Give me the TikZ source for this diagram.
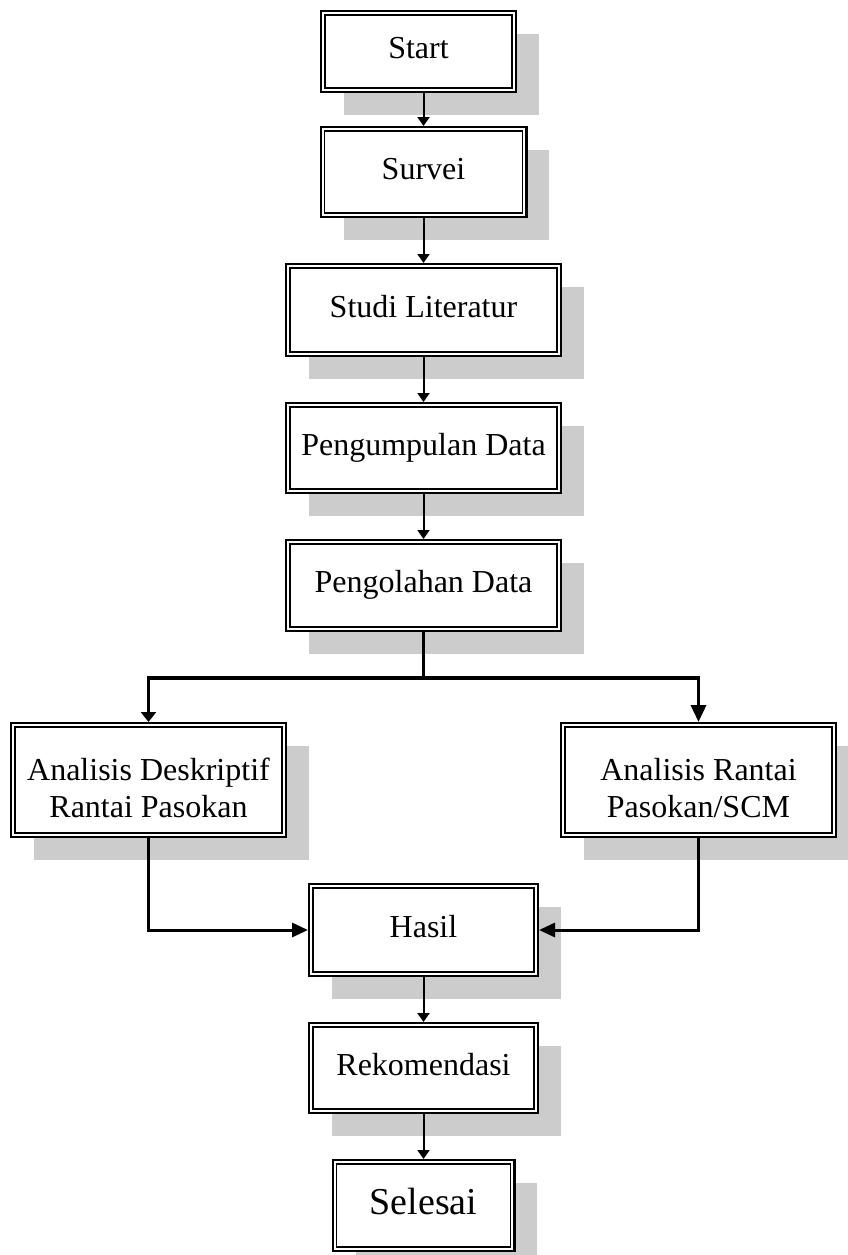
\documentclass[tikz,border=0pt]{standalone}
\usepackage{fontspec}
\setmainfont{Liberation Serif}
\usetikzlibrary{positioning}
\usetikzlibrary{arrows.meta, shadows}

\begin{document}
\begin{tikzpicture}[x=1pt, y=1pt,
  kotak/.style = {draw, fill=white, line width=2.4pt,
    inner sep=0pt, outer sep=1.2pt, minimum width=274.6pt, minimum height=90.6pt,
    font=\fontsize{32pt}{37pt}\selectfont, text height=22.4pt, text depth=8pt,
    path picture={\draw[line width=1.3pt]
      ([shift={(3.85pt,-3.85pt)}]path picture bounding box.north west) rectangle
      ([shift={(-3.85pt,3.85pt)}]path picture bounding box.south east);},
    drop shadow={shadow xshift=23pt, shadow yshift=-23pt, fill=black!20, opacity=1}},
  dua/.style = {align=center, minimum height=113.6pt, text height=75pt, text depth=0pt},
  panah/.style = {-{Triangle[width=12pt,length=9pt]}, line width=2pt},
  tebal/.style = {line width=3.5pt},
  gabung/.style = {-{Triangle[width=14pt,length=16pt]}, line width=3pt}]
\useasboundingbox (0,0) rectangle (848,-1255);
\node[kotak, minimum width=194.6pt, minimum height=80.6pt] (start) at (418.5,-51.5) {Start};
\node[kotak, minimum width=205.6pt, minimum height=89.6pt] (survei) [below=33pt of start, xshift=5pt] {Survei};
\node[kotak, minimum height=91.6pt] (studi) [below=45pt of survei] {Studi Literatur};
\node[kotak, minimum height=89.6pt] (kumpul) [below=45pt of studi] {Pengumpulan Data};
\node[kotak] (olah) [below=45pt of kumpul] {Pengolahan Data};
\node[kotak, dua] (deskriptif) [below=90pt of olah, xshift=-275pt] {Analisis Deskriptif\\Rantai Pasokan};
\node[kotak, dua] (scm) [below=90pt of olah, xshift=275pt] {Analisis Rantai\\Pasokan/SCM};
\node[kotak, minimum width=228.6pt, minimum height=91.6pt] (hasil) at (423.5,-930) {Hasil};
\node[kotak, minimum width=228.6pt, minimum height=89.6pt] (rekom) [below=45pt of hasil] {Rekomendasi};
\node[kotak, minimum width=181.6pt, font=\fontsize{38pt}{44pt}\selectfont, text height=26.6pt, text depth=9.5pt] (selesai) [below=45pt of rekom] {Selesai};
\coordinate[below=46pt of olah] (cabang);

\draw[panah] (start.south -| survei.north) -- (survei.north);
\draw[panah] (survei) -- (studi);
\draw[panah] (studi) -- (kumpul);
\draw[panah] (kumpul) -- (olah);
\draw[tebal] (olah) -- (cabang);
\draw[tebal, -{Triangle[width=15pt,length=10pt]}] (cabang) -| (deskriptif);
\draw[tebal, -{Triangle[width=15pt,length=17pt]}] (cabang) -| (scm);
\draw[gabung] (deskriptif) |- (hasil);
\draw[gabung] (scm) |- (hasil);
\draw[panah] (hasil) -- (rekom);
\draw[panah] (rekom) -- (selesai);
\end{tikzpicture}
\end{document}
